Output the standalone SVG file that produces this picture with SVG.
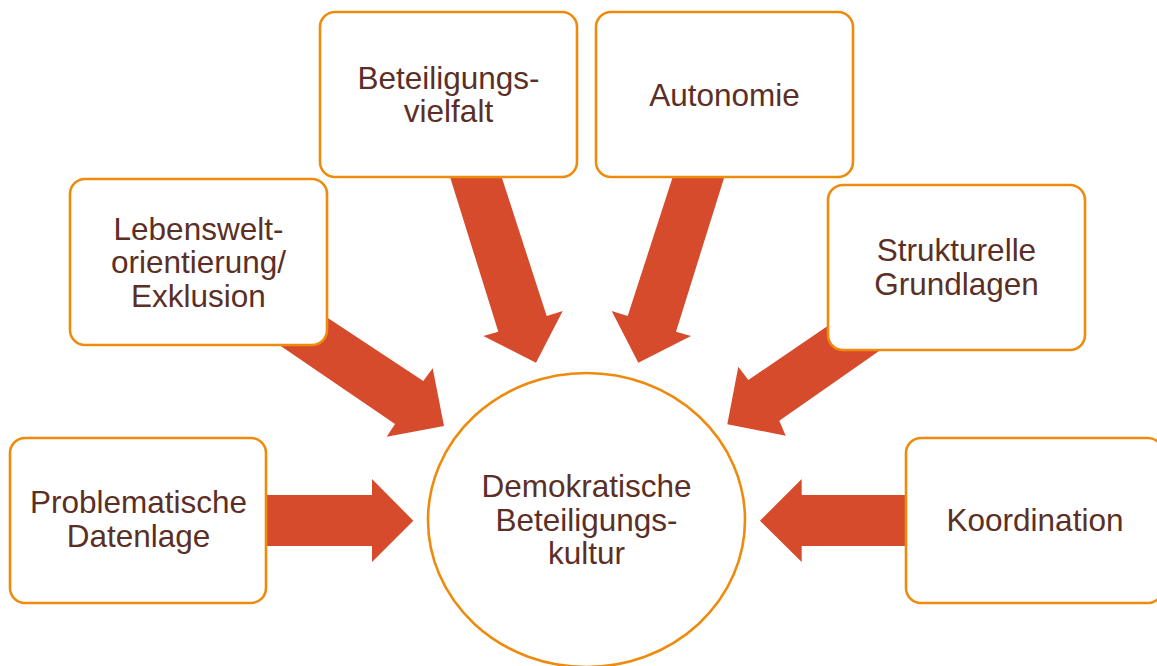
<svg xmlns="http://www.w3.org/2000/svg" width="1157" height="666" viewBox="0 0 1157 666">
<style>
.box{fill:#FFFFFF;stroke:#EE8B0C;stroke-width:2.6}
.arr{fill:#D74B2D}
text{font-family:"Liberation Sans",Arial,sans-serif;font-size:31.5px;fill:#5B2F26;text-anchor:middle}
</style>
<rect width="1157" height="666" fill="#FFFFFF"/>
<g id="connectors">
<polygon class="arr" points="260,495 372,495 372,479 413.3,520.7 372,562 372,546 260,546"/>
<polygon class="arr" points="915,495 801.7,495 801.7,479 760,520.7 801.7,562 801.7,546 915,546"/>
<polygon class="arr" points="294.6,296 423.3,381 432.7,368.3 444,426 386.7,436.7 395,424 247,323"/>
<polygon class="arr" points="443.8,157 498.3,331.7 483.3,336 536,362.7 562.7,311 546.7,316 495.2,157"/>
<polygon class="arr" points="730.6,157 676,331.7 691,336 638.3,362.7 611.7,311 627.7,316 679.2,157"/>
<polygon class="arr" points="854.7,307.5 748.3,380 738.3,366.7 727.3,424.3 785.7,435.7 779.3,420.7 909.5,329.8"/>
</g>
<g id="node-center">
<ellipse class="box" cx="586.5" cy="520" rx="158.5" ry="147"/>
<text x="586.5" y="497">Demokratische</text>
<text x="586.5" y="531">Beteiligungs-</text>
<text x="586.5" y="564">kultur</text>
</g>
<g id="node-datenlage">
<rect class="box" x="10" y="438" width="256" height="165" rx="15"/>
<text x="138.5" y="513">Problematische</text>
<text x="138.5" y="547">Datenlage</text>
</g>
<g id="node-lebenswelt">
<rect class="box" x="70" y="179" width="257" height="166" rx="15"/>
<text x="198.5" y="239.5">Lebenswelt-</text>
<text x="198.5" y="273">orientierung/</text>
<text x="198.5" y="306.5">Exklusion</text>
</g>
<g id="node-vielfalt">
<rect class="box" x="320" y="12" width="257" height="165" rx="15"/>
<text x="448.5" y="89">Beteiligungs-</text>
<text x="448.5" y="122">vielfalt</text>
</g>
<g id="node-autonomie">
<rect class="box" x="596" y="12" width="257" height="165" rx="15"/>
<text x="724.5" y="106">Autonomie</text>
</g>
<g id="node-strukturelle">
<rect class="box" x="828" y="185" width="257" height="165" rx="15"/>
<text x="956.5" y="261">Strukturelle</text>
<text x="956.5" y="295">Grundlagen</text>
</g>
<g id="node-koordination">
<rect class="box" x="906" y="438" width="257" height="165" rx="15"/>
<text x="1035" y="531">Koordination</text>
</g>
</svg>
